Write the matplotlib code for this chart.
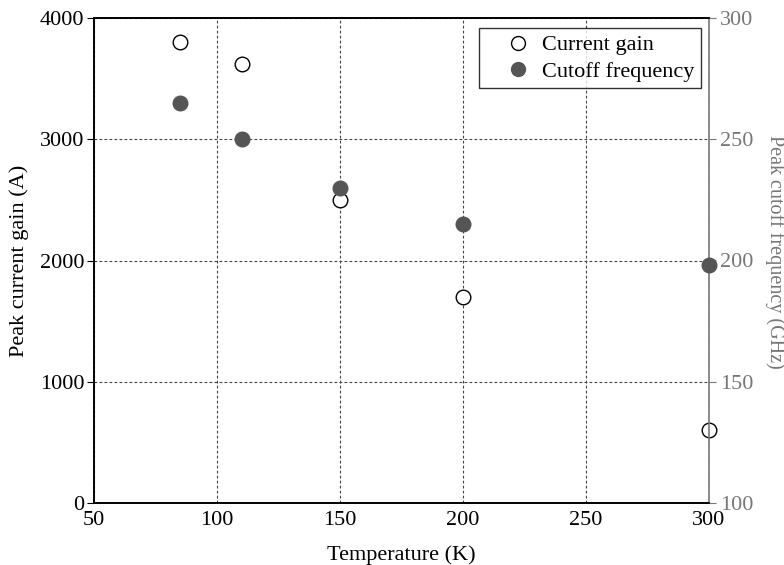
import matplotlib
matplotlib.use("Agg")
import matplotlib.pyplot as plt
from matplotlib.lines import Line2D

plt.rcParams["font.family"] = ["Liberation Serif", "DejaVu Serif"]

# data
temperature = [85, 110, 150, 200, 300]
current_gain = [3800, 3620, 2500, 1700, 600]
cutoff_freq = [265, 250, 230, 215, 198]

GRAY = "#555555"
RGRAY = "#777777"
FS = 16

fig = plt.figure(figsize=(7.84, 5.65), dpi=100)
ax = fig.add_axes([94 / 784, 62 / 565, 615 / 784, 485 / 565])
ax2 = ax.twinx()

ax.set_xlim(50, 300)
ax.set_ylim(0, 4000)
ax2.set_ylim(100, 300)
ax.set_xticks([50, 100, 150, 200, 250, 300])
ax.set_yticks([0, 1000, 2000, 3000, 4000])
ax2.set_yticks([100, 150, 200, 250, 300])

ax.grid(True, color="#444444", linestyle=(0, (2.5, 2)), linewidth=0.8)
ax.set_axisbelow(True)

ax.plot(temperature, current_gain, "o", ms=10.5, mfc="white", mec="black",
        mew=1.0, clip_on=False, zorder=5)
ax2.plot(temperature, cutoff_freq, "o", ms=10.5, mfc=GRAY, mec=GRAY,
         clip_on=False, zorder=5)

ax.tick_params(axis="x", length=0, labelsize=FS, pad=6)
ax.tick_params(axis="y", direction="out", length=5, width=0.8,
               labelsize=FS, pad=2)
ax2.tick_params(axis="y", direction="out", length=5, width=0.8,
                labelsize=FS, pad=3, color=RGRAY, labelcolor=RGRAY)

for s in ["left", "bottom", "top"]:
    ax.spines[s].set_linewidth(1.2)
    ax2.spines[s].set_linewidth(1.2)
ax2.spines["right"].set_color(RGRAY)
ax2.spines["right"].set_linewidth(1.2)
ax.spines["right"].set_visible(False)

ax.set_xlabel("Temperature (K)", fontsize=FS, labelpad=11)
ax.set_ylabel("Peak current gain (A)", fontsize=FS, labelpad=8)
ax2.set_ylabel("Peak cutoff frequency (GHz)", fontsize=14.5, color=RGRAY,
               rotation=270)
ax2.yaxis.set_label_coords(1.107, 0.518)
ax2.yaxis.label.set_ha("center")
ax2.yaxis.label.set_va("center")
ax2.yaxis.label.set_rotation_mode("anchor")

handles = [
    Line2D([], [], ls="none", marker="o", ms=10, mfc="white", mec="black"),
    Line2D([], [], ls="none", marker="o", ms=10, mfc=GRAY, mec=GRAY),
]
leg = ax2.legend(handles, ["Current gain", "Cutoff frequency"], loc="upper right",
                 bbox_to_anchor=(0.987, 0.979), borderaxespad=0, fontsize=FS,
                 frameon=True, fancybox=False, edgecolor="black",
                 handletextpad=-0.36, borderpad=0.3, labelspacing=0.25,
                 handlelength=2.9)
leg.get_frame().set_linewidth(1.0)

fig.savefig("out.png", dpi=100)
